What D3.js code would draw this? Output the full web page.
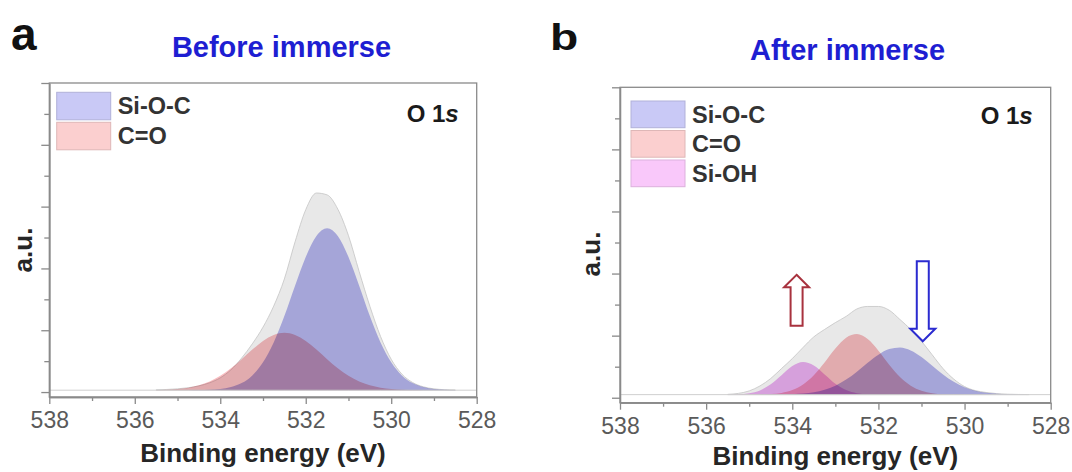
<!DOCTYPE html>
<html><head><meta charset="utf-8">
<script src="https://cdn.jsdelivr.net/npm/d3@7"></script>
<style>
body{margin:0;background:#fff}
svg{display:block}
text{font-family:"Liberation Sans",Arial,Helvetica,sans-serif}
</style>
</head><body>
<svg id="chart" width="1072" height="472"></svg>
<script>
// ---------------- data ----------------
const energies = [535.5,535.25,535.0,534.75,534.5,534.25,534.0,533.75,533.5,533.25,533.0,532.75,532.5,532.25,532.0,531.75,531.5,531.25,531.0,530.75,530.5,530.25,530.0,529.75,529.5,529.25,529.0,528.75,528.5];

// panel a: Before immerse
const envelopeA = [.006,.012,.022,.04,.07,.12,.20,.33,.52,.75,1.02,1.36,1.80,2.40,2.92,3.19,3.16,2.93,2.50,1.92,1.36,.87,.50,.26,.125,.055,.022,.008,.003];
const siocA = [0,0,0,.001,.002,.007,.02,.05,.115,.239,.452,.773,1.199,1.688,2.155,2.494,2.62,2.494,2.155,1.688,1.199,.773,.452,.239,.115,.05,.02,.007,.002];
const coA = [.004,.009,.02,.041,.079,.14,.232,.355,.502,.657,.797,.895,.93,.895,.797,.657,.502,.355,.232,.14,.079,.041,.02,.009,.004,.001,0,0,0];

// panel b: After immerse
const envelopeB = [.005,.02,.06,.14,.26,.42,.58,.76,.93,1.05,1.16,1.26,1.38,1.42,1.42,1.36,1.21,1.05,.86,.64,.42,.25,.13,.065,.035,.016,.007,.003,.001];
const siocB = [0,0,0,0,.001,.002,.007,.017,.038,.078,.144,.242,.37,.513,.644,.734,.759,.711,.605,.467,.326,.207,.119,.062,.029,.013,.005,.002,0];
const coB = [0,0,.001,.003,.009,.028,.073,.163,.313,.519,.742,.916,.975,.894,.708,.483,.285,.145,.063,.024,.008,.002,0,0,0,0,0,0,0];
const sohB = [.001,.006,.022,.068,.166,.313,.46,.527,.47,.326,.176,.074,.024,.006,.001,0,0,0,0,0,0,0,0,0,0,0,0,0,0];

const backgroundA = 0.03, backgroundB = 0.05;

const xTickValues = [538,536,534,532,530,528];
const xMinorValues = [537,535,533,531,529];
const yMajorValues = [0,1,2,3,4,5];
const yMinorValues = [0.5,1.5,2.5,3.5,4.5];

const seriesNamesA = ["Si-O-C","C=O"];
const seriesNamesB = ["Si-O-C","C=O","Si-OH"];

// arrows in panel b (energy, top and bottom intensity)
const arrowsB = [
  {e:533.90, top:1.98, bottom:1.16, dir:"up", color:"#a8323e"},
  {e:530.97, top:2.20, bottom:0.91, dir:"down", color:"#2b2bd0"}
];

// ---------------- drawing ----------------
const colors = {"Si-O-C":"#b6b6ee","C=O":"#f8bcc0","Si-OH":"#ecb0f2"};
const swatchColors = {"Si-O-C":"#c9c9f6","C=O":"#fbcfcf","Si-OH":"#f9c8fa"};
const svg = d3.select("#chart");

function panel(cfg){
  const g = svg.append("g");
  const x = d3.scaleLinear().domain([538,528]).range([cfg.x0,cfg.x1]);
  const y = d3.scaleLinear().domain([-0.08,5]).range([cfg.y0,cfg.y1]);
  const bg = cfg.bg;

  // plot content
  const plot = g.append("g").style("isolation","isolate");
  const area = vals => d3.area()
      .x((d,i)=>x(energies[i]))
      .y0(y(bg))
      .y1((d,i)=>y(bg+vals[i]))
      .curve(d3.curveMonotoneX)(vals);
  plot.append("path").attr("d", area(cfg.env))
      .attr("fill","#e8e8e8").attr("stroke","#c4c4c4").attr("stroke-width",0.8);
  cfg.series.forEach((s,k)=>{
    plot.append("path").attr("d", area(s))
      .attr("fill", colors[cfg.names[k]])
      .style("mix-blend-mode","multiply");
  });
  // baseline
  g.append("line").attr("x1",x(538)).attr("x2",x(528))
    .attr("y1",y(bg)).attr("y2",y(bg)).attr("stroke","#cfcfcf").attr("stroke-width",1);

  // frame
  g.append("rect").attr("x",cfg.x0).attr("y",cfg.y1)
    .attr("width",cfg.x1-cfg.x0).attr("height",cfg.y0-cfg.y1)
    .attr("fill","none").attr("stroke","#8a8a8a").attr("stroke-width",1.3);

  // axes
  const xa = g.append("g").attr("transform",`translate(0,${cfg.y0})`)
    .call(d3.axisBottom(x).tickValues(xTickValues).tickSize(7).tickSizeOuter(0).tickPadding(7.5).tickFormat(d3.format("d")));
  const xm = g.append("g").attr("transform",`translate(0,${cfg.y0})`)
    .call(d3.axisBottom(x).tickValues(xMinorValues).tickSize(4).tickSizeOuter(0).tickFormat(""));
  const ya = g.append("g").attr("transform",`translate(${cfg.x0},0)`)
    .call(d3.axisLeft(y).tickValues(yMajorValues).tickSize(8).tickSizeOuter(0).tickFormat(""));
  const ym = g.append("g").attr("transform",`translate(${cfg.x0},0)`)
    .call(d3.axisLeft(y).tickValues(yMinorValues).tickSize(5).tickSizeOuter(0).tickFormat(""));
  [xa,xm,ya,ym].forEach(a=>{
    a.select(".domain").attr("stroke","#8a8a8a").attr("stroke-width",1.3);
    a.selectAll(".tick line").attr("stroke","#8a8a8a").attr("stroke-width",1.3);
  });
  xa.selectAll(".tick text").attr("font-size",23).attr("fill","#5a5a5a")
    .attr("font-family",'"Liberation Sans",Arial,sans-serif');

  // axis titles
  g.append("text").attr("x",(cfg.x0+cfg.x1)/2).attr("y",cfg.xTitleY)
    .attr("text-anchor","middle").attr("font-size",26).attr("font-weight","bold")
    .attr("fill","#262626").text("Binding energy (eV)");
  g.append("text").attr("transform",`translate(${cfg.yTitleX},${cfg.yTitleY}) rotate(-90)`)
    .attr("text-anchor","middle").attr("font-size",26).attr("font-weight","bold")
    .attr("fill","#262626").text("a.u.");

  // panel title + letter
  g.append("text").attr("x",cfg.titleX).attr("y",cfg.titleY)
    .attr("text-anchor","middle").attr("font-size",29).attr("font-weight","bold")
    .attr("fill","#1e1ed2").text(cfg.title);
  g.append("text").attr("transform",`translate(${cfg.letterX},${cfg.letterY}) scale(${cfg.letterSX},1)`)
    .attr("font-size",cfg.letterSize).attr("font-weight","bold").attr("fill","#111").text(cfg.letter);

  // O 1s label
  const o = g.append("text").attr("x",cfg.x1-18).attr("y",cfg.oY)
    .attr("text-anchor","end").attr("font-size",24).attr("font-weight","bold").attr("fill","#1a1a1a");
  o.append("tspan").text("O 1");
  o.append("tspan").attr("font-style","italic").text("s");

  // legend
  const lg = g.append("g");
  cfg.names.forEach((n,k)=>{
    const yy = cfg.legY + k*cfg.legStep;
    lg.append("rect").attr("x",cfg.legX).attr("y",yy).attr("width",54).attr("height",cfg.legH)
      .attr("fill",swatchColors[n]).attr("stroke",d3.color(swatchColors[n]).darker(0.35)).attr("stroke-width",1);
    lg.append("text").attr("x",cfg.legX+61).attr("y",yy+cfg.legH/2+8.3)
      .attr("font-size",23.5).attr("font-weight","bold").attr("fill","#333").text(n);
  });

  // arrows
  (cfg.arrows||[]).forEach(a=>{
    const cx = x(a.e), yt = y(a.top), yb = y(a.bottom);
    const sw = 6, hw = 12.5, hh = 12.5;
    const p = d3.path();
    if(a.dir==="up"){
      p.moveTo(cx, yt); p.lineTo(cx+hw, yt+hh); p.lineTo(cx+sw, yt+hh);
      p.lineTo(cx+sw, yb); p.lineTo(cx-sw, yb); p.lineTo(cx-sw, yt+hh);
      p.lineTo(cx-hw, yt+hh); p.closePath();
    } else {
      p.moveTo(cx, yb); p.lineTo(cx+hw, yb-hh); p.lineTo(cx+sw, yb-hh);
      p.lineTo(cx+sw, yt); p.lineTo(cx-sw, yt); p.lineTo(cx-sw, yb-hh);
      p.lineTo(cx-hw, yb-hh); p.closePath();
    }
    g.append("path").attr("d",p.toString()).attr("fill","#fff")
      .attr("stroke",a.color).attr("stroke-width",2).attr("stroke-linejoin","miter");
  });
}

panel({x0:49.3,x1:476.7,y0:397,y1:83,bg:backgroundA,
  env:envelopeA, series:[siocA,coA], names:seriesNamesA,
  xTitleY:461.5, yTitleX:32, yTitleY:250,
  title:"Before immerse", titleX:281.5, titleY:57.3,
  letter:"a", letterX:11, letterY:50, letterSize:46, letterSX:1,
  oY:121.5, legX:56.7, legY:92.3, legStep:30, legH:27.5});

panel({x0:620,x1:1050.7,y0:402.7,y1:87.3,bg:backgroundB,
  env:envelopeB, series:[siocB,coB,sohB], names:seriesNamesB,
  xTitleY:465, yTitleX:600, yTitleY:254,
  title:"After immerse", titleX:847.5, titleY:60,
  letter:"b", letterX:550, letterY:49.5, letterSize:37, letterSX:1.25,
  oY:123.5, legX:631, legY:101, legStep:29.5, legH:26.7, arrows:arrowsB});
</script>
</body></html>
